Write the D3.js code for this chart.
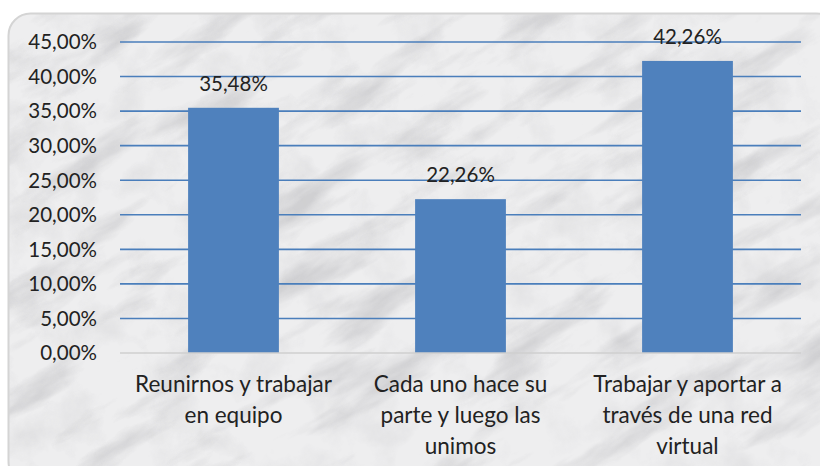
<!DOCTYPE html>
<html>
<head>
<meta charset="utf-8">
<script src="https://cdn.jsdelivr.net/npm/d3@7"></script>
<style>
  body { margin: 0; background: #fff; }
  svg { display: block; font-family: Lato, "Open Sans", sans-serif; }
</style>
</head>
<body>
<div id="chart"></div>
<script>
var categories = [
    ["Reunirnos y trabajar", "en equipo"],
    ["Cada uno hace su", "parte y luego las", "unimos"],
    ["Trabajar y aportar a", "través de una red", "virtual"]
];
var values = [35.48, 22.26, 42.26];
var yTicks = [0, 5, 10, 15, 20, 25, 30, 35, 40, 45];

var W = 820, H = 466;
var plot = {left: 120, right: 801, top: 42, bottom: 353};

var fmt = function (v) { return v.toFixed(2).replace(".", ",") + "%"; };

var svg = d3.select("#chart").append("svg")
    .attr("width", W)
    .attr("height", H);

// marble-ish background texture (decoration only)
var defs = svg.append("defs");
function noiseFilter(id, freq, seed, rgb, slope, off) {
    var f = defs.append("filter").attr("id", id)
        .attr("x", 0).attr("y", 0).attr("width", "100%").attr("height", "100%");
    f.append("feTurbulence")
        .attr("type", "fractalNoise")
        .attr("baseFrequency", freq)
        .attr("numOctaves", 5)
        .attr("seed", seed)
        .attr("result", "noise");
    f.append("feColorMatrix")
        .attr("in", "noise")
        .attr("type", "matrix")
        .attr("values", "0 0 0 0 " + rgb + "  0 0 0 0 " + rgb + "  0 0 0 0 " + (rgb + 0.02) +
            "  " + slope + " 0 0 0 " + off)
        .attr("result", "veins");
    f.append("feComposite").attr("in", "veins").attr("in2", "SourceGraphic").attr("operator", "in");
}
noiseFilter("marble", "0.008 0.03", 11, 0.5, -2.6, 1.3);
noiseFilter("cloud", "0.02 0.02", 4, 0.6, -2.2, 1.1);

var clip = defs.append("clipPath").attr("id", "frame");
clip.append("rect").attr("x", 8).attr("y", 13).attr("width", 830).attr("height", 470).attr("rx", 22);

var bg = svg.append("g").attr("clip-path", "url(#frame)");
bg.append("rect").attr("x", 8).attr("y", 13).attr("width", 830).attr("height", 470)
    .attr("fill", "#eeeeef");
bg.append("rect").attr("x", -300).attr("y", -300).attr("width", 1400).attr("height", 1100)
    .attr("fill", "#eeeeef")
    .attr("filter", "url(#cloud)")
    .attr("opacity", 0.45);
bg.append("rect").attr("x", -300).attr("y", -300).attr("width", 1400).attr("height", 1100)
    .attr("fill", "#eeeeef")
    .attr("filter", "url(#marble)")
    .attr("opacity", 0.6)
    .attr("transform", "rotate(-30 410 233)");

svg.append("rect")
    .attr("x", 8.5).attr("y", 13.5).attr("width", 830).attr("height", 470).attr("rx", 22)
    .attr("fill", "none")
    .attr("stroke", "#d4d4d4")
    .attr("stroke-width", 2);

var x = d3.scaleBand()
    .domain(d3.range(categories.length))
    .range([plot.left, plot.right])
    .paddingInner(0.6)
    .paddingOuter(0.3);

var y = d3.scaleLinear()
    .domain([0, 45])
    .range([plot.bottom, plot.top]);

// gridlines
svg.append("g").selectAll("line")
    .data(yTicks.filter(function (d) { return d > 0; }))
    .enter().append("line")
    .attr("x1", plot.left).attr("x2", plot.right)
    .attr("y1", function (d) { return y(d); })
    .attr("y2", function (d) { return y(d); })
    .attr("stroke", "#4a7ebb")
    .attr("stroke-width", 1.6);

// y labels
svg.append("g").selectAll("text")
    .data(yTicks)
    .enter().append("text")
    .attr("x", 97)
    .attr("y", function (d) { return y(d); })
    .attr("dy", "0.36em")
    .attr("text-anchor", "end")
    .attr("font-size", 20.5)
    .attr("fill", "#222")
    .text(function (d) { return fmt(d); });

// bars
svg.append("g").selectAll("rect")
    .data(values)
    .enter().append("rect")
    .attr("x", function (d, i) { return x(i); })
    .attr("y", function (d) { return y(d); })
    .attr("width", x.bandwidth())
    .attr("height", function (d) { return y(0) - y(d); })
    .attr("fill", "#4f81bd");

// base axis line
svg.append("line")
    .attr("x1", plot.left).attr("x2", plot.right)
    .attr("y1", y(0)).attr("y2", y(0))
    .attr("stroke", "#cfcfcf")
    .attr("stroke-width", 1.6);

// value labels
svg.append("g").selectAll("text")
    .data(values)
    .enter().append("text")
    .attr("x", function (d, i) { return x(i) + x.bandwidth() / 2; })
    .attr("y", function (d) { return y(d) - 17; })
    .attr("text-anchor", "middle")
    .attr("font-size", 20.5)
    .attr("fill", "#222")
    .text(function (d) { return fmt(d); });

// category labels
var cat = svg.append("g").selectAll("text")
    .data(categories)
    .enter().append("text")
    .attr("text-anchor", "middle")
    .attr("font-size", 22.5)
    .attr("fill", "#222");
cat.selectAll("tspan")
    .data(function (d, i) { return d.map(function (s) { return {s: s, i: i}; }); })
    .enter().append("tspan")
    .attr("x", function (d) { return x(d.i) + x.bandwidth() / 2; })
    .attr("y", function (d, j) { return 392 + j * 31; })
    .text(function (d) { return d.s; });
</script>
</body>
</html>
